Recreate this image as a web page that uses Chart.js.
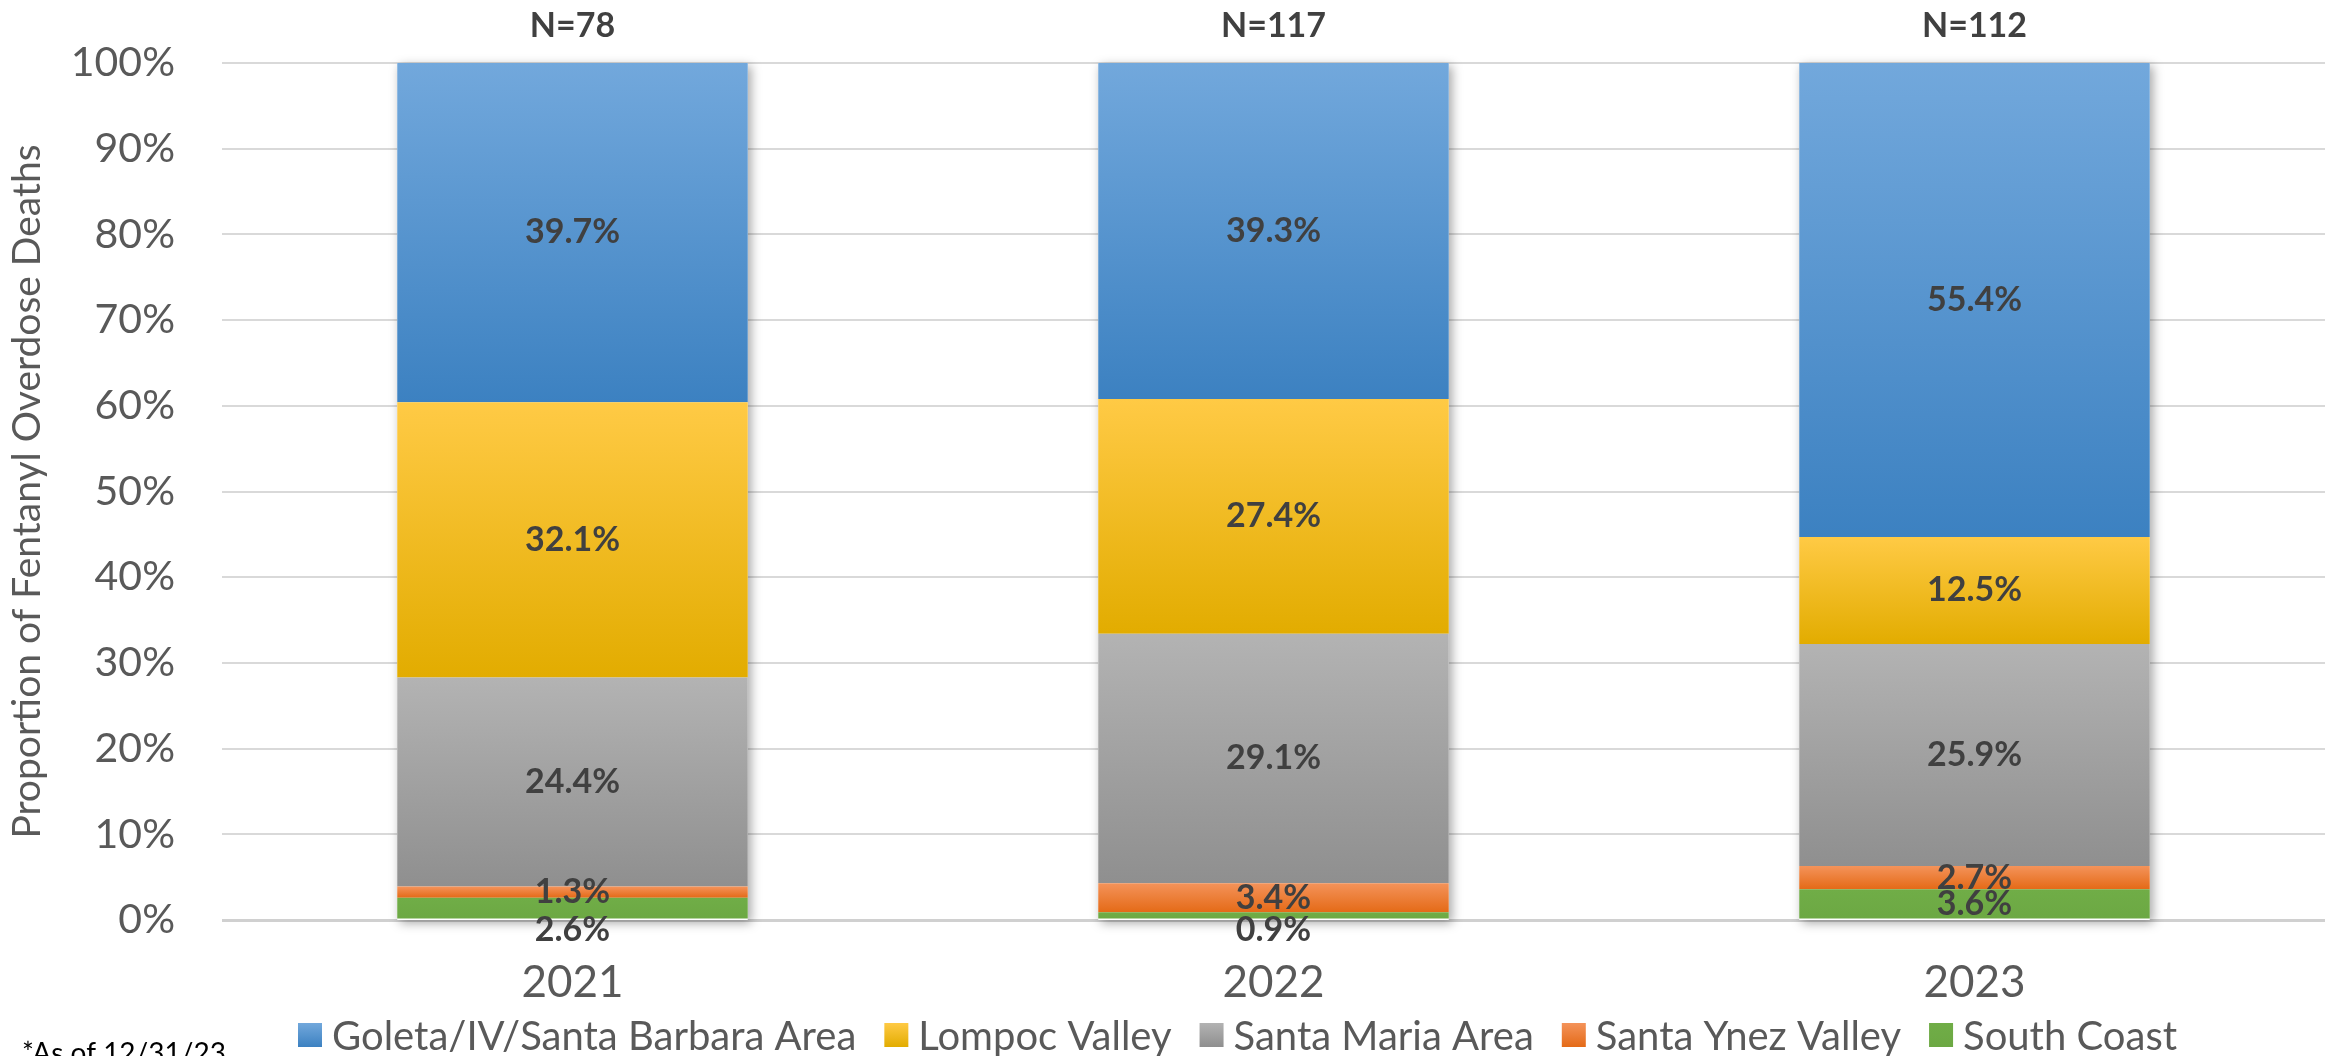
<!DOCTYPE html>
<html>
<head>
<meta charset="utf-8">
<script src="https://cdn.jsdelivr.net/npm/chart.js@4.4.1/dist/chart.umd.min.js"></script>
<style>
    html, body { margin:0; padding:0; background:#fff; }
    #wrap { width:2333px; height:1056px; }
</style>
</head>
<body>
<div id="wrap"><canvas id="myChart" width="2333" height="1056"></canvas></div>
<script>
// ============================================================
// DATA
// ============================================================

const years      = ['2021', '2022', '2023'];
const totals     = [78, 117, 112];

// stacked bottom -> top
const southCoast = [2.6, 0.9, 3.6];
const santaYnez  = [1.3, 3.4, 2.7];
const santaMaria = [24.4, 29.1, 25.9];
const lompoc     = [32.1, 27.4, 12.5];
const goleta     = [39.7, 39.3, 55.4];

const yTicks = [0, 10, 20, 30, 40, 50, 60, 70, 80, 90, 100];

// ============================================================
// STYLE
// ============================================================

const FONT     = 'Lato';
const TXT      = '#595959';
const LBL      = '#404040';

function segGradient(top, bottom) {
    return c => {
        const chart = c.chart;
        if (!chart.chartArea || c.type !== 'data') return bottom;
        const y = chart.scales.y;
        let base = 0;
        for (let k = 0; k < c.datasetIndex; k++) base += chart.data.datasets[k].data[c.dataIndex];
        const y0 = y.getPixelForValue(Math.min(100, base + c.raw));
        const y1 = y.getPixelForValue(base);
        if (!isFinite(y0) || !isFinite(y1) || y0 === y1) return bottom;
        const g = chart.ctx.createLinearGradient(0, y0, 0, y1);
        g.addColorStop(0, top);
        g.addColorStop(1, bottom);
        return g;
    };
}

const series = [
    { label:'South Coast',                 data:southCoast, top:'#70AD47', bottom:'#6CA843' },
    { label:'Santa Ynez Valley',           data:santaYnez,  top:'#F4935A', bottom:'#E46A17' },
    { label:'Santa Maria Area',            data:santaMaria, top:'#B3B3B3', bottom:'#8F8F8F' },
    { label:'Lompoc Valley',               data:lompoc,     top:'#FFCA45', bottom:'#E2AC00' },
    { label:'Goleta/IV/Santa Barbara Area', data:goleta,    top:'#72A8DC', bottom:'#3C81C1' }
];

// ============================================================
// PLUGINS
// ============================================================

const barShadow = {
    id: 'barShadow',
    beforeDatasetsDraw(chart) {
        const { ctx, scales:{ y } } = chart;
        const meta = chart.getDatasetMeta(chart.data.datasets.length - 1);
        ctx.save();
        ctx.shadowColor   = 'rgba(0,0,0,0.35)';
        ctx.shadowBlur    = 10;
        ctx.shadowOffsetX = 3;
        ctx.shadowOffsetY = 3;
        ctx.fillStyle     = '#ffffff';
        meta.data.forEach((el, i) => {
            let total = 0;
            chart.data.datasets.forEach(ds => total += ds.data[i]);
            const top = y.getPixelForValue(Math.min(100, total));
            const bot = y.getPixelForValue(0);
            ctx.fillRect(el.x - el.width / 2, top, el.width, bot - top);
        });
        ctx.restore();
    }
};

const segLabels = {
    id: 'segLabels',
    afterDatasetsDraw(chart) {
        const ctx = chart.ctx;
        ctx.save();
        ctx.font = 'bold 34px ' + FONT;
        ctx.fillStyle = LBL;
        ctx.textAlign = 'center';
        ctx.textBaseline = 'middle';
        chart.data.datasets.forEach((ds, d) => {
            chart.getDatasetMeta(d).data.forEach((el, i) => {
                const h = Math.abs(el.base - el.y);
                let yy = (el.y + el.base) / 2;
                // thin bottom segments get their label just under the axis
                if (d === 0 && h < 25) yy = el.base + 12;
                ctx.fillText(ds.data[i].toFixed(1) + '%', el.x, yy);
            });
        });
        // N= labels above each bar
        const top = chart.getDatasetMeta(chart.data.datasets.length - 1);
        top.data.forEach((el, i) => {
            ctx.fillText('N=' + totals[i], el.x, chart.chartArea.top - 37);
        });
        ctx.restore();
    }
};

const bottomLegend = {
    id: 'bottomLegend',
    afterDraw(chart) {
        const ctx = chart.ctx;
        const items = chart.data.datasets.slice().reverse();
        const box = 24, gapBox = 10, gapItem = 28;
        const cy = 1035;
        ctx.save();
        ctx.font = '40px ' + FONT;
        ctx.textBaseline = 'middle';
        ctx.textAlign = 'left';
        let x = 298;
        items.forEach(ds => {
            const s = series.find(s => s.label === ds.label);
            const g = ctx.createLinearGradient(0, cy - box / 2, 0, cy + box / 2);
            g.addColorStop(0, s.top);
            g.addColorStop(1, s.bottom);
            ctx.fillStyle = g;
            ctx.fillRect(x, cy - box / 2, box, box);
            x += box + gapBox;
            ctx.fillStyle = TXT;
            ctx.fillText(ds.label, x, cy + 2);
            x += ctx.measureText(ds.label).width + gapItem;
        });
        // footnote
        ctx.font = '28px ' + FONT;
        ctx.fillStyle = '#000000';
        ctx.textBaseline = 'top';
        ctx.fillText('*As of 12/31/23', 22, 1040);
        ctx.restore();
    }
};

// ============================================================
// CHART
// ============================================================

new Chart(document.getElementById('myChart'), {
    type: 'bar',
    data: {
        labels: years,
        datasets: series.map(s => ({
            label: s.label,
            data: s.data,
            backgroundColor: segGradient(s.top, s.bottom),
            borderWidth: 0,
            categoryPercentage: 1,
            barPercentage: 0.5
        }))
    },
    options: {
        responsive: false,
        animation: false,
        devicePixelRatio: 1,
        layout: { padding: { top: 63, right: 8, bottom: 0, left: 0 } },
        plugins: {
            legend:  { display: false },
            tooltip: { enabled: false }
        },
        scales: {
            x: {
                stacked: true,
                grid:   { display: false, drawTicks: false },
                border: { display: false },
                ticks:  { color: TXT, font: { family: FONT, size: 44 }, padding: 36 },
                afterFit: s => { s.height = 136; }
            },
            y: {
                stacked: true,
                min: 0,
                max: 100,
                afterBuildTicks: s => { s.ticks = yTicks.map(v => ({ value: v })); },
                grid: {
                    drawTicks: false,
                    color: c => c.tick && c.tick.value === 0 ? '#D0D0D0' : '#D9D9D9',
                    lineWidth: c => c.tick && c.tick.value === 0 ? 3 : 2
                },
                border: { display: false },
                ticks: {
                    color: TXT,
                    font: { family: FONT, size: 41 },
                    padding: 47,
                    callback: v => v + '%'
                },
                title: {
                    display: true,
                    text: 'Proportion of Fentanyl Overdose Deaths',
                    color: TXT,
                    font: { family: FONT, size: 39 },
                    padding: { top: 4, bottom: 0 }
                },
                afterFit: s => {
                    s.width = 222;
                    s.paddingTop = 30;
                    s.paddingBottom = 30;
                }
            }
        }
    },
    plugins: [barShadow, segLabels, bottomLegend]
});
</script>
</body>
</html>
